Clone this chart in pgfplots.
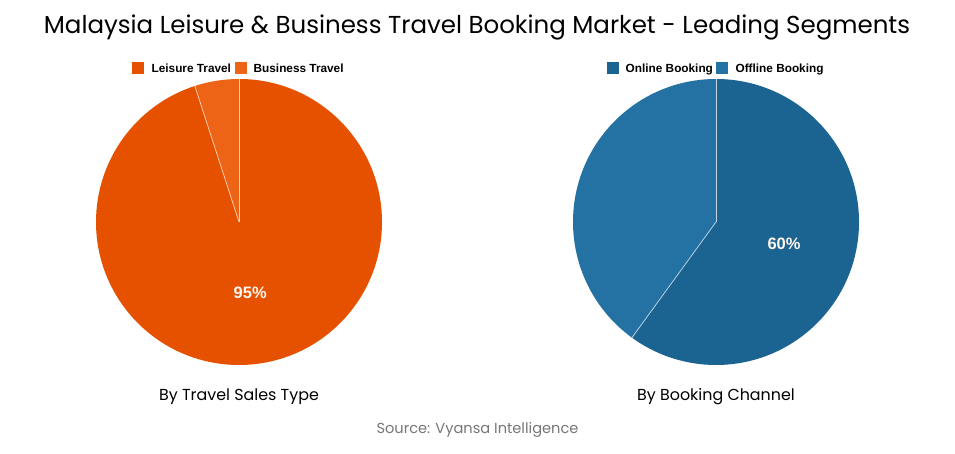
\documentclass[border=0pt]{standalone}
\usepackage{pgfplots}
\pgfplotsset{compat=1.18}
\usepackage{pgfplotstable}
\usepackage{fontspec}
\setmainfont{Poppins}
\newfontfamily\lsans{Liberation Sans}

\definecolor{leisure}{HTML}{E65100}
\definecolor{business}{HTML}{EE6416}
\definecolor{online}{HTML}{1B6391}
\definecolor{offline}{HTML}{2472A4}
\definecolor{srcgray}{HTML}{777777}

% shares in percent
\pgfplotstableread{
label value
Leisure 95
Business 5
}\salestype
\pgfplotstableread{
label value
Online 60
Offline 40
}\channel

\tikzset{slice/.style={draw=white!75!#1, line width=0.7pt}}
\pgfplotsset{
  pieaxis/.style={
    hide axis, scale only axis, width=286pt, height=286pt,
    xmin=-1, xmax=1, ymin=-1, ymax=1, anchor=center, clip=false,
    legend columns=2,
    legend style={at={(0.5,1.035)}, anchor=center, draw=none, fill=none,
      font=\lsans\bfseries\fontsize{11.8}{12}\selectfont,
      /tikz/every even column/.append style={column sep=1.5pt},
      /tikz/every odd column/.append style={column sep=0pt},
      inner sep=0pt, cells={anchor=west, inner xsep=0pt}},
    legend image code/.code={\fill[##1, draw=none] (0pt,-5pt) rectangle (12pt,7pt);
      \path (17pt,0pt);},
  },
}

\begin{document}
\begin{tikzpicture}
\path[use as bounding box, fill=white] (0,0) rectangle (955pt,454pt);

\node[font=\fontsize{24.5}{28}\selectfont] at (477pt,427pt)
  {Malaysia Leisure \& Business Travel Booking Market - Leading Segments};

% left pie
\pgfplotstablegetelem{0}{value}\of\salestype \let\va\pgfplotsretval
\pgfplotstablegetelem{1}{value}\of\salestype \let\vb\pgfplotsretval
\pgfmathsetmacro\endA{90-3.6*\va}
\pgfmathsetmacro\endB{90+3.6*\vb}
\pgfmathsetmacro\midA{90-1.8*\va}
\begin{axis}[pieaxis, at={(239pt,232pt)}]
  \addlegendimage{fill=leisure}\addlegendentry{Leisure Travel}
  \addlegendimage{fill=business}\addlegendentry{Business Travel}
  \fill[leisure] (axis cs:0,0) -- (axis cs:0,1)
    arc[start angle=90, end angle=\endA, radius=143pt] -- cycle;
  \fill[business] (axis cs:0,0) -- (axis cs:0,1)
    arc[start angle=90, end angle=\endB, radius=143pt] -- cycle;
  \draw[slice=leisure] (axis cs:0,0) -- (axis cs:0,1);
  \draw[slice=leisure] (axis cs:0,0) -- (axis cs:{cos(\endB)},{sin(\endB)});
  \node[font=\lsans\bfseries\fontsize{16.5}{18}\selectfont, text=white!94!orange]
    at (axis cs:{0.5*cos(\midA)},{0.5*sin(\midA)}) {\va\%};
\end{axis}

% right pie
\pgfplotstablegetelem{0}{value}\of\channel \let\vc\pgfplotsretval
\pgfplotstablegetelem{1}{value}\of\channel \let\vd\pgfplotsretval
\pgfmathsetmacro\endC{90-3.6*\vc}
\pgfmathsetmacro\endD{90+3.6*\vd}
\pgfmathsetmacro\midC{90-1.8*\vc}
\begin{axis}[pieaxis, at={(716pt,232pt)}]
  \addlegendimage{fill=online}\addlegendentry{Online Booking}
  \addlegendimage{fill=offline}\addlegendentry{Offline Booking}
  \fill[online] (axis cs:0,0) -- (axis cs:0,1)
    arc[start angle=90, end angle=\endC, radius=143pt] -- cycle;
  \fill[offline] (axis cs:0,0) -- (axis cs:0,1)
    arc[start angle=90, end angle=\endD, radius=143pt] -- cycle;
  \draw[slice=online] (axis cs:0,0) -- (axis cs:0,1);
  \draw[slice=online] (axis cs:0,0) -- (axis cs:{cos(\endC)},{sin(\endC)});
  \node[font=\lsans\bfseries\fontsize{16.5}{18}\selectfont, text=white!94!orange]
    at (axis cs:{0.5*cos(\midC)},{0.5*sin(\midC)}) {\vc\%};
\end{axis}

\node[font=\fontsize{15.9}{18}\selectfont] at (239pt,57pt) {By Travel Sales Type};
\node[font=\fontsize{15.9}{18}\selectfont] at (716pt,57pt) {By Booking Channel};
\node[font=\fontsize{14.6}{16}\selectfont, text=srcgray] at (477.5pt,24pt)
  {Source: Vyansa Intelligence};
\end{tikzpicture}
\end{document}
